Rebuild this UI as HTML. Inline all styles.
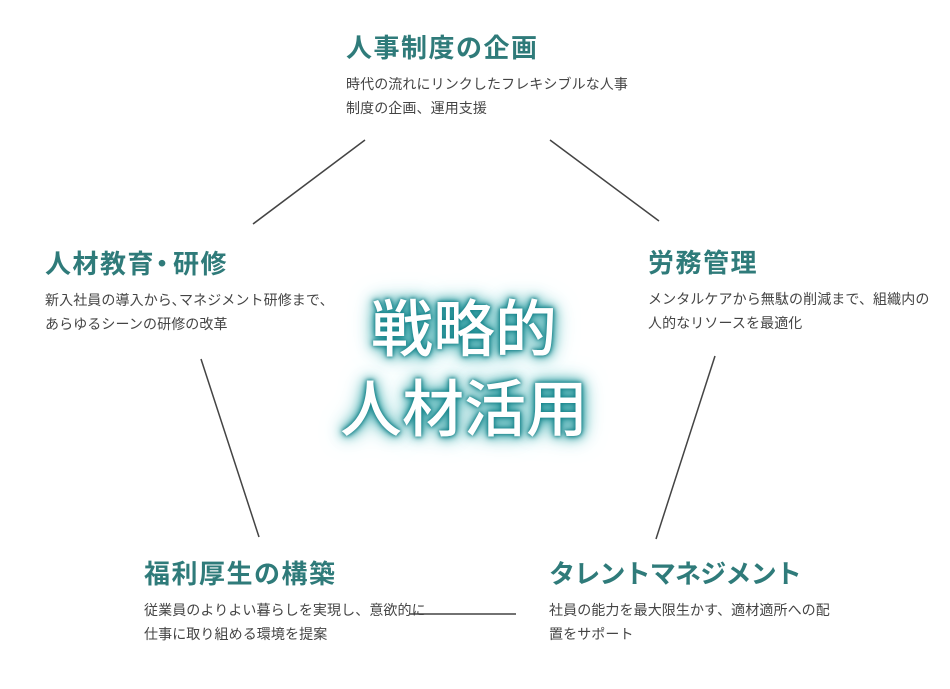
<!DOCTYPE html>
<html><head><meta charset="utf-8"><style>
body{margin:0;width:950px;height:689px;background:#fff;position:relative;overflow:hidden;font-family:"Liberation Sans","Noto Sans CJK JP",sans-serif;}
.b{position:absolute;}
.t{color:#2f7b7a;font-size:26px;font-weight:bold;line-height:30px;letter-spacing:1.5px;white-space:nowrap;}
.d{color:#444;font-size:14px;line-height:24px;margin-top:9px;white-space:nowrap;letter-spacing:0.1px;}
.c{position:absolute;left:0;width:950px;text-align:center;color:#fff;font-size:62px;line-height:80px;font-weight:500;
text-shadow:0 0 3px #17838a,0 0 6px #17838a,0 0 10px #1f9096,0 0 16px #3aa9ad,0 0 24px #7dd0d2;}
</style></head><body>
<svg width="950" height="689" style="position:absolute;left:0;top:0">
<g stroke="#444" stroke-width="1.5">
<line x1="365" y1="140" x2="253" y2="224"/>
<line x1="550" y1="140" x2="659" y2="221"/>
<line x1="201" y1="359" x2="259" y2="537"/>
<line x1="715" y1="356" x2="656" y2="539"/>
<line x1="410" y1="614" x2="516" y2="614"/>
</g></svg>
<div class="b" style="left:346px;top:33px"><div class="t">人事制度の企画</div><div class="d">時代の流れにリンクしたフレキシブルな人事<br>制度の企画、運用支援</div></div>
<div class="b" style="left:45px;top:249px"><div class="t">人材教育<span style="letter-spacing:-8px;margin-left:-6px">・</span><span style="margin-left:6px">研修</span></div><div class="d">新入社員の導入から､マネジメント研修まで､<br>あらゆるシーンの研修の改革</div></div>
<div class="b" style="left:648px;top:248px"><div class="t">労務管理</div><div class="d">メンタルケアから無駄の削減まで、組織内の<br>人的なリソースを最適化</div></div>
<div class="b" style="left:144px;top:559px"><div class="t">福利厚生の構築</div><div class="d">従業員のよりよい暮らしを実現し、意欲的に<br>仕事に取り組める環境を提案</div></div>
<div class="b" style="left:549px;top:559px"><div class="t" style="letter-spacing:-0.8px">タレントマネジメント</div><div class="d">社員の能力を最大限生かす、適材適所への配<br>置をサポート</div></div>
<div class="c" style="top:291px;left:-11px">戦略的</div>
<div class="c" style="top:371px;left:-11px">人材活用</div>
</body></html>
